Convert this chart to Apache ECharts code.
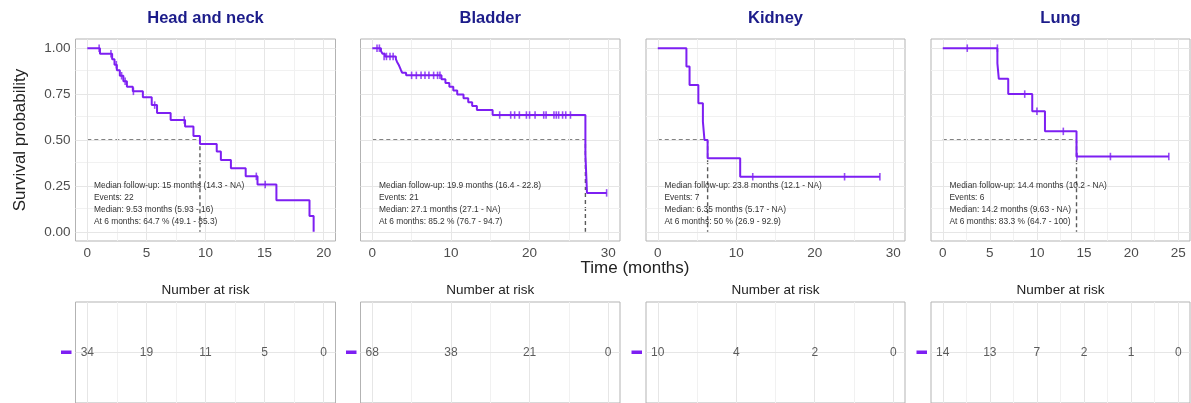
<!DOCTYPE html>
<html><head><meta charset="utf-8">
<script src="https://cdn.jsdelivr.net/npm/echarts@6/dist/echarts.min.js"></script>
<style>html,body{margin:0;padding:0;background:#fff}#c{width:1191px;height:403px}</style>
</head><body><div id="c"></div>
<script>
// ---------- DATA ----------
const panelTitles = ['Head and neck', 'Bladder', 'Kidney', 'Lung'];
const yTicks = [0, 0.25, 0.5, 0.75, 1];

// Head and neck
const hnTime = [0, 1.07, 2.1, 2.3, 2.5, 2.75, 3.05, 3.35, 3.85, 4.7, 5.45, 5.9, 7.05, 8.27, 8.98, 9.53, 10.95, 11.3, 12.15, 13.4, 14.4, 16.0, 18.8, 19.15];
const hnSurv = [1, 0.97, 0.94, 0.91, 0.88, 0.85, 0.82, 0.79, 0.765, 0.733, 0.69, 0.647, 0.609, 0.573, 0.522, 0.478, 0.437, 0.391, 0.346, 0.302, 0.258, 0.172, 0.086, 0];
const hnCensT = [1.0, 2.0, 2.45, 2.9, 3.2, 3.9, 5.7, 8.2, 14.3, 15.05];
const hnCensS = [1, 0.97, 0.91, 0.85, 0.82, 0.765, 0.69, 0.609, 0.302, 0.258];
const hnMedian = 9.53;
const hnRiskT = [0, 5, 10, 15, 20];
const hnRiskN = [34, 19, 11, 5, 0];
const hnXTicks = [0, 5, 10, 15, 20];
const hnText = ['Median follow-up: 15 months (14.3 - NA)', 'Events: 22', 'Median: 9.53 months (5.93 - 16)', 'At 6 months: 64.7 % (49.1 - 85.3)'];

// Bladder
const blTime = [0, 1.1, 1.3, 1.6, 3.0, 3.15, 3.35, 3.5, 3.65, 3.8, 4.3, 8.8, 9.3, 9.8, 10.3, 10.8, 11.6, 12.2, 12.7, 13.3, 15.3, 27.1, 27.3];
const blSurv = [1, 0.985, 0.97, 0.955, 0.94, 0.925, 0.91, 0.895, 0.88, 0.866, 0.852, 0.831, 0.811, 0.79, 0.769, 0.748, 0.727, 0.706, 0.685, 0.663, 0.636, 0.424, 0.212];
const blCensT = [0.6, 0.9, 1.5, 1.8, 2.25, 2.65, 5.0, 5.6, 6.2, 6.7, 7.2, 7.8, 8.3, 8.6, 16.2, 17.6, 18.1, 18.7, 19.6, 20.0, 20.7, 21.8, 22.1, 23.1, 23.4, 23.7, 24.2, 24.6, 25.2, 29.8];
const blCensS = [1, 1, 0.955, 0.955, 0.955, 0.955, 0.852, 0.852, 0.852, 0.852, 0.852, 0.852, 0.852, 0.852, 0.636, 0.636, 0.636, 0.636, 0.636, 0.636, 0.636, 0.636, 0.636, 0.636, 0.636, 0.636, 0.636, 0.636, 0.636, 0.212];
const blMedian = 27.1;
const blRiskT = [0, 10, 20, 30];
const blRiskN = [68, 38, 21, 0];
const blXTicks = [0, 10, 20, 30];
const blText = ['Median follow-up: 19.9 months (16.4 - 22.8)', 'Events: 21', 'Median: 27.1 months (27.1 - NA)', 'At 6 months: 85.2 % (76.7 - 94.7)'];

// Kidney
const kdTime = [0, 3.65, 4.05, 5.17, 5.75, 5.95, 6.35, 10.5];
const kdSurv = [1, 0.9, 0.8, 0.7, 0.6, 0.5, 0.4, 0.3];
const kdCensT = [12.1, 23.8, 28.3];
const kdCensS = [0.3, 0.3, 0.3];
const kdMedian = 6.35;
const kdRiskT = [0, 10, 20, 30];
const kdRiskN = [10, 4, 2, 0];
const kdXTicks = [0, 10, 20, 30];
const kdText = ['Median follow-up: 23.8 months (12.1 - NA)', 'Events: 7', 'Median: 6.35 months (5.17 - NA)', 'At 6 months: 50 % (26.9 - 92.9)'];

// Lung
const lgTime = [0, 5.8, 5.95, 6.95, 9.5, 10.85, 14.2];
const lgSurv = [1, 0.917, 0.833, 0.75, 0.656, 0.547, 0.41];
const lgCensT = [2.6, 5.8, 8.7, 10.0, 12.8, 14.25, 17.8, 24.0];
const lgCensS = [1, 1, 0.75, 0.656, 0.547, 0.41, 0.41, 0.41];
const lgMedian = 14.2;
const lgRiskT = [0, 5, 10, 15, 20, 25];
const lgRiskN = [14, 13, 7, 2, 1, 0];
const lgXTicks = [0, 5, 10, 15, 20, 25];
const lgText = ['Median follow-up: 14.4 months (10.2 - NA)', 'Events: 6', 'Median: 14.2 months (9.63 - NA)', 'At 6 months: 83.3 % (64.7 - 100)'];

// ---------- LAYOUT / STYLE ----------
const panels = [
  {t: hnTime, s: hnSurv, ct: hnCensT, cs: hnCensS, med: hnMedian, rt: hnRiskT, rn: hnRiskN, xt: hnXTicks, txt: hnText},
  {t: blTime, s: blSurv, ct: blCensT, cs: blCensS, med: blMedian, rt: blRiskT, rn: blRiskN, xt: blXTicks, txt: blText},
  {t: kdTime, s: kdSurv, ct: kdCensT, cs: kdCensS, med: kdMedian, rt: kdRiskT, rn: kdRiskN, xt: kdXTicks, txt: kdText},
  {t: lgTime, s: lgSurv, ct: lgCensT, cs: lgCensS, med: lgMedian, rt: lgRiskT, rn: lgRiskN, xt: lgXTicks, txt: lgText}
];
const layout = {
  left: [75.5, 360.5, 646, 931],
  width: [260, 259.5, 259, 259],
  xMin: [-1, -1.5, -1.5, -1.25],
  xMax: [21, 31.5, 31.5, 26.25],
  kmTop: 39, kmHeight: 202,
  riskTop: 302, riskHeight: 101
};
const PURPLE = '#7d1ff2';
const FONT = '"Liberation Sans", Arial, Helvetica, sans-serif';
const BORDER = '#b3b3b3';
const GRID_MAJOR = '#e6e6e6';
const GRID_MINOR = '#f1f1f1';

function midpoints(a) { const r = []; for (let i = 0; i < a.length - 1; i++) r.push((a[i] + a[i + 1]) / 2); return r; }

const grids = [], xAxes = [], yAxes = [], series = [], graphics = [];

panels.forEach((p, i) => {
  grids.push({left: layout.left[i], width: layout.width[i], top: layout.kmTop, height: layout.kmHeight,
    show: true, borderColor: BORDER, borderWidth: 1, backgroundColor: 'transparent', containLabel: false});
});
panels.forEach((p, i) => {
  grids.push({left: layout.left[i], width: layout.width[i], top: layout.riskTop, height: layout.riskHeight,
    show: true, borderColor: BORDER, borderWidth: 1, backgroundColor: 'transparent', containLabel: false});
});

panels.forEach((p, i) => {
  xAxes.push({
    type: 'value', gridIndex: i, min: layout.xMin[i], max: layout.xMax[i],
    axisLine: {show: false},
    axisTick: {show: true, customValues: p.xt, length: 3, lineStyle: {color: BORDER}},
    axisLabel: {show: true, customValues: p.xt, fontSize: 13.5, color: '#4d4d4d', fontFamily: FONT, margin: 5},
    splitLine: {show: false}
  });
  yAxes.push({
    type: 'value', gridIndex: i, min: -0.05, max: 1.05,
    axisLine: {show: false},
    axisTick: {show: true, customValues: yTicks, length: 3, lineStyle: {color: BORDER}},
    axisLabel: {show: i === 0, customValues: yTicks, fontSize: 13.5, color: '#4d4d4d', fontFamily: FONT, margin: 5,
      formatter: v => Number(v).toFixed(2)},
    splitLine: {show: false}
  });
});
panels.forEach((p, i) => {
  xAxes.push({
    type: 'value', gridIndex: i + 4, min: layout.xMin[i], max: layout.xMax[i],
    axisLine: {show: false}, axisTick: {show: false}, axisLabel: {show: false}, splitLine: {show: false}
  });
  yAxes.push({
    type: 'value', gridIndex: i + 4, min: 0, max: 1,
    axisLine: {show: false}, axisTick: {show: false}, axisLabel: {show: false}, splitLine: {show: false}
  });
});

function gridLineSeries(idx, xs, xsMinor, ys, ysMinor) {
  const data = [];
  xsMinor.forEach(v => data.push({xAxis: v, lineStyle: {color: GRID_MINOR, width: 1, type: 'solid'}}));
  ysMinor.forEach(v => data.push({yAxis: v, lineStyle: {color: GRID_MINOR, width: 1, type: 'solid'}}));
  xs.forEach(v => data.push({xAxis: v, lineStyle: {color: GRID_MAJOR, width: 1, type: 'solid'}}));
  ys.forEach(v => data.push({yAxis: v, lineStyle: {color: GRID_MAJOR, width: 1, type: 'solid'}}));
  return {
    type: 'line', xAxisIndex: idx, yAxisIndex: idx, data: [], silent: true, z: 1,
    markLine: {silent: true, symbol: ['none', 'none'], label: {show: false}, animation: false, data: data}
  };
}

panels.forEach((p, i) => {
  series.push(gridLineSeries(i, p.xt, midpoints(p.xt), yTicks, midpoints(yTicks)));
  series.push(gridLineSeries(i + 4, p.xt, midpoints(p.xt), [0.5], []));

  // median dashed lines
  series.push({
    type: 'line', xAxisIndex: i, yAxisIndex: i, silent: true, z: 3, showSymbol: false, symbol: 'none',
    data: [[0, 0.5], [p.med, 0.5], [p.med, 0]],
    lineStyle: {color: '#5a5a5a', width: 1.4, type: [4, 3]}
  });

  // KM step curve (extended to last follow-up time)
  const pts = p.t.map((t, k) => [t, p.s[k]]);
  const lastT = Math.max.apply(null, p.ct);
  if (lastT > p.t[p.t.length - 1]) pts.push([lastT, p.s[p.s.length - 1]]);
  series.push({
    type: 'line', xAxisIndex: i, yAxisIndex: i, step: 'end', showSymbol: false, symbol: 'none', z: 5,
    data: pts, lineStyle: {color: PURPLE, width: 2}, silent: true
  });

  // censor marks
  series.push({
    type: 'scatter', xAxisIndex: i, yAxisIndex: i, z: 6, silent: true,
    symbol: 'rect', symbolSize: [1.6, 7.5],
    itemStyle: {color: PURPLE},
    data: p.ct.map((t, k) => [t, p.cs[k]])
  });

  // number at risk
  series.push({
    type: 'scatter', xAxisIndex: i + 4, yAxisIndex: i + 4, z: 6, silent: true,
    symbolSize: 0,
    data: p.rt.map((t, k) => [t, 0.5, p.rn[k]]),
    label: {show: true, position: 'inside', formatter: q => String(q.value[2]),
      fontSize: 12, color: '#333333', fontFamily: FONT}
  });

  const cx = layout.left[i] + layout.width[i] / 2;
  graphics.push({type: 'text', x: cx, y: 18, silent: true,
    style: {text: panelTitles[i], fill: '#1c1c8a', font: 'bold 16.5px ' + FONT, align: 'center', verticalAlign: 'middle'}});
  graphics.push({type: 'text', x: cx, y: 290.5, silent: true,
    style: {text: 'Number at risk', fill: '#222222', font: '13.5px ' + FONT, align: 'center', verticalAlign: 'middle'}});
  p.txt.forEach((line, k) => {
    graphics.push({type: 'text', x: layout.left[i] + 18.5, y: 186 + k * 12, z: 10, silent: true,
      style: {text: line, fill: '#333333', font: '8.4px ' + FONT, align: 'left', verticalAlign: 'middle'}});
  });
  graphics.push({type: 'rect', silent: true,
    shape: {x: layout.left[i] - 14.5, y: 350.5, width: 10.5, height: 3.5},
    style: {fill: PURPLE}});
});

graphics.push({type: 'text', x: 20, y: 140, rotation: Math.PI / 2, silent: true,
  style: {text: 'Survival probability', fill: '#222222', font: '17px ' + FONT, align: 'center', verticalAlign: 'middle'}});
graphics.push({type: 'text', x: 635, y: 268, silent: true,
  style: {text: 'Time (months)', fill: '#222222', font: '17px ' + FONT, align: 'center', verticalAlign: 'middle'}});

const chart = echarts.init(document.getElementById('c'), null, {renderer: 'canvas'});
chart.setOption({
  animation: false,
  backgroundColor: '#ffffff',
  textStyle: {fontFamily: FONT},
  grid: grids, xAxis: xAxes, yAxis: yAxes, series: series, graphic: graphics
});
</script>
</body></html>
